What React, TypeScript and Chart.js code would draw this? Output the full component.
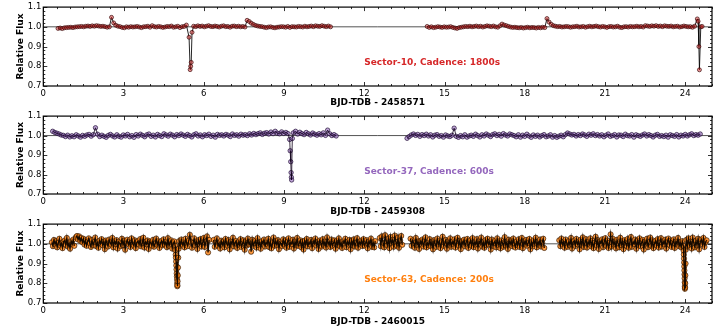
import React, { useEffect, useRef } from "react";
import { Chart, registerables } from "chart.js";

Chart.register(...registerables);

const FONT = '"DejaVu Sans", "Liberation Sans", sans-serif';

// Axis ticks
const X_TICKS = [0, 3, 6, 9, 12, 15, 18, 21, 24];
const Y_TICKS = [0.7, 0.8, 0.9, 1.0, 1.1];
const X_MIN = 0;
const X_MAX = 25;
const Y_MIN = 0.7;
const Y_MAX = 1.1;

// ---------- Sector 10 (cadence 1800 s) : flux offsets in parts per thousand ----------
const s10FluxA1 = [
  -8, -6, -9, -5, -4, -3, -2, -4, -1, 0,
  1, 2, 0, 3, 4, 2, 5, 3, 6, 4,
  2, 3, 1, -2, 0, 48, 20, 8, 3, 1,
  -3, -5, 0, -2, 1, -1, 0, 2, -1, -4,
  0, 1, 3, -2, 6, 1, -1, 2, 0, -3,
  -1, 2, 1, 4, -2, 0, 3, -4, 1, 2, 9,
];
const s10Transit1: [number, number][] = [
  [5.45, 0.947], [5.49, 0.783], [5.51, 0.8], [5.53, 0.82], [5.56, 0.972],
];
const s10FluxA2 = [
  3, 1, 5, 2, 4, 0, 3, 6, 2, 1,
  4, 2, -1, 3, 5, 1, 2, -2, 3, 4,
  1, 3, 0, 2, -1, 33, 27, 18, 12, 7,
  4, 2, 1, -2, -4, -1, 0, -3, -5, -2,
  -1, 1, 0, -2, 2, -3, 1, 0, -1, 2,
  1, -1, 3, 0, 2, 4, 1, 5, 3, 2,
  6, 3, 1, 4, 0,
];
const s10FluxB1 = [
  2, -3, 0, -4, -2, 1, -1, -3, 0, -2,
  -1, 1, -3, -6, -8, -4, -2, 0, 2, 1,
  3, 0, 2, 4, 1, 3, -1, 2, 5, 3,
  1, 4, 0, -2, 5, 14, 9, 6, 2, -1,
  -3, -2, -4, -5, -3, -6, -4, -2, -5, -3,
  -4, -6, -3, -5, -2, -4,
];
const s10FluxB2 = [
  42, 24, 13, 6, 3, 1, 2, -1, 0, 2,
  1, -2, 0, 1, 3, -1, 0, 2, -2, 1,
  3, 0, 2, 4, 1, -1, 2, 0, -3, 1,
  2, -1, 0, 3, -2, -4, 0, 1, -1, 2,
  0, 1, 3, 0, 2, -1, 6, 4, 2, 5,
  3, 6, 2, 4, 1, 5, 3, 2, 4, 0,
  2, 3, -1, 1, 4, 2, 0, 1, -2, 3,
];
const s10Transit2: [number, number][] = [
  [24.45, 1.04], [24.48, 1.028], [24.51, 0.9], [24.53, 0.782], [24.58, 1.0], [24.63, 1.002],
];

// ---------- Sector 37 (cadence 600 s) ----------
const s37FluxA1 = [
  22, 16, 12, 8, 3, 1, -5, 2, -7, -1,
  -6, 4, -2, -8, 1, -4, 3, 6, -3, 5,
  40, 7, -5, 2, -4, -9, 1, 6, -2, -7,
  4, -4, -8, 3, -2, 6, -6, 0, -9, 5,
  -2, 7, 1, -6, 4, 8, -4, 2, -7, 6,
  0, -5, 9, 3, -3, 7, 2, -6, 5, 0,
  8, 2, -4, 6, 0, -7, 4, 9, -2, 3,
  -6, 4, 0, 7, -4, 2, -8, 6, 1, 4,
  -2, 6, 2, -5, 8, 1, 4, -3, 7, 2,
  5, 0, 9, 3, 11, 5, 10, 14, 6, 12,
  15, 8, 18, 10, 22, 12, 9, 19, 11, 16,
  10,
];
const s37Transit: [number, number][] = [
  [9.21, 0.98], [9.23, 0.922], [9.25, 0.866], [9.265, 0.81], [9.275, 0.786],
  [9.285, 0.772], [9.31, 0.985],
];
const s37FluxA2 = [
  14, 22, 8, 17, 10, 5, 16, 9, 3, 13,
  7, 2, 10, 4, 14, 1, 28, 9, 0, 5, -2,
];
const s37FluxB = [
  -14, -5, 3, 8, 1, 6, -4, 5, 0, 7,
  -2, 4, -7, 2, 5, -4, 0, -8, 3, -2,
  -5, 2, 38, -4, -9, 0, -6, 4, -8, -2,
  2, -4, 7, 0, -7, 4, -2, 8, 2, -5,
  5, 9, 0, 6, -3, 10, 3, -2, 8, 4,
  0, -6, 4, -8, 2, -4, 7, -2, -9, 3,
  -4, 2, -7, 0, 5, -6, -2, 4, -8, 0,
  -9, -3, 2, -6, 5, 13, 8, 3, 6, -2,
  5, 0, 8, 3, -4, 7, 2, 9, 0, 5,
  -2, 4, -6, 2, 8, -4, 0, 5, -7, 3,
  2, -5, 7, 0, -2, 5, -8, 4, 0, -4,
  3, 8, -2, 5, 0, -7, 2, 6, -4, 0,
  -5, 2, -8, 4, 0, -4, 5, -7, 2, -2,
  6, -2, 4, 9, 0, 5, 2, 8,
];

// ---------- Sector 63 (cadence 200 s) ----------
const s63FluxS1 = [
  8, -12, 20, -3, 14, -18, 5, 26, -9, 2,
  -22, 11, 17, -6, 30, -14, 4, -25, 13, -2,
  22, -10,
];
const s63FluxS2 = [
  34, 40, 22, 38, 15, 30, 8, 26, -4, 18,
  -10, 12, 28, 3, -16, 20, -6, 9, 32, -12,
  6, -20, 15, 1, 24, -8, 11, -27, 17, 4,
  -14, 22, 7, -5, 30, -18, 13, -1, 19, -24,
  10, 2, -12, 26, -7, 16, -30, 5, 21, -3,
  12, -16, 28, 0, -9, 18, -22, 8, 14, -4,
  24, -13, 3, 31, -19, 9, -2, 17, -26, 11,
  6, -10, 20, -15, 1, 27, -6, 13, -21, 4,
  15, -8, 23, -3, 10, -17, 29, -11, 7, 18,
  -24, 2, 12,
];
const s63Transit1: [number, number][] = [
  [4.93, 0.99], [4.94, 0.968], [4.95, 0.945], [4.957, 0.93], [4.965, 0.91],
  [4.972, 0.89], [4.98, 0.87], [4.987, 0.85], [4.993, 0.835], [5.0, 0.82],
  [5.005, 0.8], [5.01, 0.785], [5.015, 0.79], [5.02, 0.81], [5.028, 0.84],
  [5.035, 0.88], [5.045, 0.93], [5.06, 0.975],
];
const s63FluxS3 = [
  14, -10, 22, -4, 8, -18, 26, 3, -12, 17,
  46, 10, -20, 5, 28, -8, 12, -26, 19, -2,
  24, -14, 7, 30, -16, 11, 38, -44, 20,
];
const s63FluxS4 = [
  20, -15, 8, 28, -10, 3, -24, 16, -5, 12,
  -18, 25, 2, -9, 19, -28, 10, -2, 31, -13,
  6, 15, -21, 9, -6, 24, -16, 1, 18, -30,
  13, -8, 27, -3, 11, -40, 21, -11, 5, 16,
  -19, 29, -7, 8, -25, 14, 0, 22, -14, 7,
  -2, 26, -17, 12, -23, 4, 32, -10, 15, -6,
  19, -27, 9, 2, -12, 23, -4, 17, -20, 10,
  28, -15, 6, -1, 21, -24, 13, -8, 30, -11,
  3, 18, -18, 11, -29, 16, -5, 25, -13, 8,
  -3, 20, -22, 14, 1, 27, -9, 10, -26, 17,
  5, -14, 24, -7, 12, -19, 33, -2, 9, -16,
  22, -10, 4, 18, -25, 15, -6, 28, -12, 7,
  -21, 13, 2, 26, -17, 10, -4, 20, -28, 16,
  -8, 23, -14, 6, 29, -20, 11, -3, 17, -11,
  24, -9, 3, 19, -23, 12, -1, 27, -15, 8,
  -18, 14,
];
const s63FluxS5 = [
  30, -12, 38, 6, -18, 44, 14, -8, 26, -22,
  35, 2, 20, -15, 42, 9, -10, 32, -20, 16,
  40, -5,
];
const s63FluxS6 = [
  26, -10, 18, 4, -20, 30, -6, 12, -26, 15,
  -2, 22, -14, 9, 33, -18, 5, -8, 24, -12,
  11, -28, 19, 1, -16, 27, -4, 14, -22, 8,
  36, -11, 3, 20, -25, 13, -7, 28, -15, 10,
  -1, 23, -19, 6, 31, -9, 16, -27, 12, -3,
  21, -13, 7, 25, -21, 2, 17, -10, 29, -17,
  9, -5, 24, -24, 14, 0, 32, -14, 8, -20,
  19, -8, 26, -2, 11, -29, 22, -11, 5, 15,
  -18, 28, -6, 13, -23, 18, 3, -15, 34, -9,
  10, -26, 21, -4, 16, -12, 27, 1, -19, 12,
  -7, 23, -16, 6, 30, -22, 14, -3, 20, -10,
  4, 25, -28, 9, -13, 18, -1, 31, -18, 11,
  -6, 22, -14, 7, 26, -21,
];
const s63FluxS7 = [
  18, -12, 27, -4, 10, -20, 22, 3, -15, 14,
  -8, 30, -24, 9, 16, -11, 25, -2, 12, -28,
  20, -6, 33, -16, 7, 24, -19, 11, -3, 28,
  -13, 15, -22, 5, 36, -9, 19, -26, 13, 1,
  23, -17, 8, 29, -10, 17, -21, 6, 48, -14,
  26, -5, 12, -23, 21, 2, -18, 31, -7, 14,
  -27, 19, 4, -12, 25, -20, 10, 35, -15, 8,
  -1, 22, -25, 16, -8, 28, -13, 6, 20, -29,
  11, -4, 26, -17, 9, 32, -11, 18, -22, 3,
  15, -9, 24, -19, 7, 29, -14, 13, -3, 21,
  -24, 10, 27, -6, 17, -16, 5, 23, -21, 12,
  -2, 30, -12, 8, -18, 14,
];
const s63Transit2: [number, number][] = [
  [23.93, 0.99], [23.94, 0.965], [23.947, 0.945], [23.953, 0.925], [23.958, 0.905],
  [23.963, 0.885], [23.968, 0.865], [23.972, 0.845], [23.976, 0.825], [23.98, 0.805],
  [23.984, 0.785], [23.988, 0.772], [23.993, 0.778], [23.998, 0.8], [24.004, 0.84],
  [24.012, 0.9], [24.022, 0.97],
];
const s63FluxS8 = [
  20, -14, 28, -6, 12, -24, 32, 4, -18, 16,
  -9, 26, -28, 10, 22, -4, 30, -16, 8, 18,
];

type Piece = {
  start?: number;
  step?: number;
  ppt?: number[];
  pts?: [number, number][];
  gapBefore?: boolean;
};

const sector10Pieces: Piece[] = [
  { start: 0.55, step: 0.08, ppt: s10FluxA1 },
  { pts: s10Transit1 },
  { start: 5.62, step: 0.08, ppt: s10FluxA2 },
  { gapBefore: true, start: 14.35, step: 0.08, ppt: s10FluxB1 },
  { start: 18.83, step: 0.08, ppt: s10FluxB2 },
  { pts: s10Transit2 },
];
const sector37Pieces: Piece[] = [
  { start: 0.35, step: 0.08, ppt: s37FluxA1 },
  { pts: s37Transit },
  { start: 9.35, step: 0.08, ppt: s37FluxA2 },
  { gapBefore: true, start: 13.6, step: 0.08, ppt: s37FluxB },
];
const sector63Pieces: Piece[] = [
  { start: 0.32, step: 0.04, ppt: s63FluxS1 },
  { gapBefore: true, start: 1.22, step: 0.04, ppt: s63FluxS2 },
  { pts: s63Transit1 },
  { start: 5.08, step: 0.04, ppt: s63FluxS3 },
  { gapBefore: true, start: 6.37, step: 0.04, ppt: s63FluxS4 },
  { gapBefore: true, start: 12.58, step: 0.04, ppt: s63FluxS5 },
  { gapBefore: true, start: 13.73, step: 0.04, ppt: s63FluxS6 },
  { gapBefore: true, start: 19.29, step: 0.04, ppt: s63FluxS7 },
  { pts: s63Transit2 },
  { start: 24.04, step: 0.04, ppt: s63FluxS8 },
];

function buildPoints(pieces: Piece[]) {
  const out: { x: number; y: number | null }[] = [];
  pieces.forEach((p) => {
    if (p.gapBefore && out.length) out.push({ x: out[out.length - 1].x, y: null });
    if (p.pts) {
      p.pts.forEach(([t, f]) => out.push({ x: t, y: f }));
    } else if (p.ppt) {
      p.ppt.forEach((v, i) => out.push({ x: (p.start as number) + i * (p.step as number), y: 1 + v / 1000 }));
    }
  });
  return out;
}

const framePlugin = {
  id: "frame",
  beforeDatasetsDraw(chart: any) {
    const { ctx, chartArea: a, scales } = chart;
    const y1 = scales.y.getPixelForValue(1.0);
    ctx.save();
    ctx.strokeStyle = "rgba(0,0,0,0.85)";
    ctx.lineWidth = 0.8;
    ctx.beginPath();
    ctx.moveTo(a.left, y1);
    ctx.lineTo(a.right, y1);
    ctx.stroke();
    ctx.restore();
  },
  afterDatasetsDraw(chart: any, _args: any, opts: any) {
    const { ctx, chartArea: a, scales } = chart;
    const xs = scales.x;
    const ys = scales.y;
    ctx.save();
    ctx.strokeStyle = "#000";
    ctx.lineWidth = 0.8;
    ctx.beginPath();
    for (let k = 0; k <= 50; k++) {
      const v = k * 0.5;
      if (v > X_MAX) break;
      const major = k % 6 === 0;
      const len = major ? 4 : 2;
      const px = Math.round(xs.getPixelForValue(v)) + 0.5;
      ctx.moveTo(px, a.bottom);
      ctx.lineTo(px, a.bottom - len);
      ctx.moveTo(px, a.top);
      ctx.lineTo(px, a.top + len);
    }
    for (let k = 0; k <= 20; k++) {
      const v = Y_MIN + k * 0.02;
      const major = k % 5 === 0;
      const len = major ? 4 : 2;
      const py = Math.round(ys.getPixelForValue(v)) + 0.5;
      ctx.moveTo(a.left, py);
      ctx.lineTo(a.left + len, py);
      ctx.moveTo(a.right, py);
      ctx.lineTo(a.right - len, py);
    }
    ctx.stroke();
    ctx.lineWidth = 1.2;
    ctx.strokeRect(a.left, a.top, a.right - a.left, a.bottom - a.top);
    ctx.fillStyle = opts.color;
    ctx.font = `bold 9px ${FONT}`;
    ctx.textAlign = "left";
    ctx.textBaseline = "middle";
    ctx.fillText(opts.label, a.left + 0.48 * (a.right - a.left), a.top + 0.71 * (a.bottom - a.top));
    ctx.restore();
  },
};

type PanelProps = {
  top: number;
  height: number;
  padBottom: number;
  xHeight: number;
  pieces: Piece[];
  fill: string;
  edge: string;
  edgeWidth: number;
  radius: number;
  lineWidth: number;
  lineColor: string;
  lineOnTop: boolean;
  label: string;
  labelColor: string;
  xTitle: string;
};

function Panel(props: PanelProps) {
  const ref = useRef<HTMLCanvasElement | null>(null);
  useEffect(() => {
    if (!ref.current) return;
    const pts = buildPoints(props.pieces);
    const datasets: any[] = props.lineOnTop
      ? [
          {
            data: pts,
            showLine: true,
            spanGaps: false,
            borderColor: props.lineColor,
            borderWidth: props.lineWidth,
            pointRadius: 0,
            order: 1,
          },
          {
            data: pts,
            showLine: false,
            pointRadius: props.radius,
            pointBorderWidth: props.edgeWidth,
            pointBackgroundColor: props.fill,
            pointBorderColor: props.edge,
            order: 2,
          },
        ]
      : [
          {
            data: pts,
            showLine: true,
            spanGaps: false,
            borderColor: props.lineColor,
            borderWidth: props.lineWidth,
            pointRadius: props.radius,
            pointBorderWidth: props.edgeWidth,
            pointBackgroundColor: props.fill,
            pointBorderColor: props.edge,
          },
        ];
    const chart = new Chart(ref.current, {
      type: "scatter",
      data: { datasets },
      options: {
        responsive: false,
        animation: false,
        devicePixelRatio: 1,
        layout: { padding: { left: 15, right: 14, top: 6, bottom: props.padBottom } },
        plugins: {
          legend: { display: false },
          tooltip: { enabled: false },
          decimation: { enabled: false },
          frame: { label: props.label, color: props.labelColor },
        } as any,
        scales: {
          x: {
            type: "linear",
            min: X_MIN,
            max: X_MAX,
            grid: { display: false, drawTicks: false },
            border: { display: false },
            afterBuildTicks: (s: any) => {
              s.ticks = X_TICKS.map((v) => ({ value: v }));
            },
            afterFit: (s: any) => {
              s.height = props.xHeight;
            },
            ticks: {
              padding: 2.5,
              color: "#000",
              font: { family: FONT, size: 8.5 },
              maxRotation: 0,
              callback: (v: any) => String(v),
            },
            title: {
              display: true,
              text: props.xTitle,
              color: "#000",
              padding: 0,
              font: { family: FONT, size: 9, weight: "bold" },
            },
          },
          y: {
            type: "linear",
            min: Y_MIN,
            max: Y_MAX,
            grid: { display: false, drawTicks: false },
            border: { display: false },
            afterBuildTicks: (s: any) => {
              s.ticks = Y_TICKS.map((v) => ({ value: v }));
            },
            afterFit: (s: any) => {
              s.width = 28.3;
            },
            ticks: {
              padding: 2,
              color: "#000",
              font: { family: FONT, size: 8.5 },
              callback: (v: any) => Number(v).toFixed(1),
            },
            title: {
              display: true,
              text: "Relative Flux",
              color: "#000",
              padding: 0,
              font: { family: FONT, size: 9, weight: "bold" },
            },
          },
        },
      } as any,
      plugins: [framePlugin as any],
    });
    return () => chart.destroy();
  }, []);
  return (
    <div style={{ position: "absolute", left: 0, top: props.top, width: 726, height: props.height }}>
      <canvas ref={ref} width={726} height={props.height} style={{ width: 726, height: props.height, display: "block" }} />
    </div>
  );
}

export default function App() {
  return (
    <div style={{ position: "absolute", left: 0, top: 0, width: 726, height: 330, background: "#fff", overflow: "hidden" }}>
      <Panel
        top={0}
        height={108}
        padBottom={0}
        xHeight={22}
        pieces={sector10Pieces}
        fill="rgba(214,39,40,0.5)"
        edge="rgba(50,5,5,0.95)"
        edgeWidth={0.7}
        radius={2}
        lineWidth={0.9}
        lineColor="rgba(0,0,0,0.95)"
        lineOnTop={false}
        label="Sector-10, Cadence: 1800s"
        labelColor="#d62728"
        xTitle="BJD-TDB - 2458571"
      />
      <Panel
        top={109}
        height={108}
        padBottom={0}
        xHeight={23}
        pieces={sector37Pieces}
        fill="rgba(148,103,189,0.6)"
        edge="rgba(25,8,45,0.95)"
        edgeWidth={0.7}
        radius={2.2}
        lineWidth={0.9}
        lineColor="rgba(20,5,30,0.9)"
        lineOnTop={true}
        label="Sector-37, Cadence: 600s"
        labelColor="#9467bd"
        xTitle="BJD-TDB - 2459308"
      />
      <Panel
        top={217}
        height={113}
        padBottom={3}
        xHeight={24}
        pieces={sector63Pieces}
        fill="rgba(255,127,14,0.8)"
        edge="rgba(40,18,0,0.95)"
        edgeWidth={0.7}
        radius={2.6}
        lineWidth={1.3}
        lineColor="rgba(22,10,0,1)"
        lineOnTop={true}
        label="Sector-63, Cadence: 200s"
        labelColor="#ff7f0e"
        xTitle="BJD-TDB - 2460015"
      />
    </div>
  );
}
